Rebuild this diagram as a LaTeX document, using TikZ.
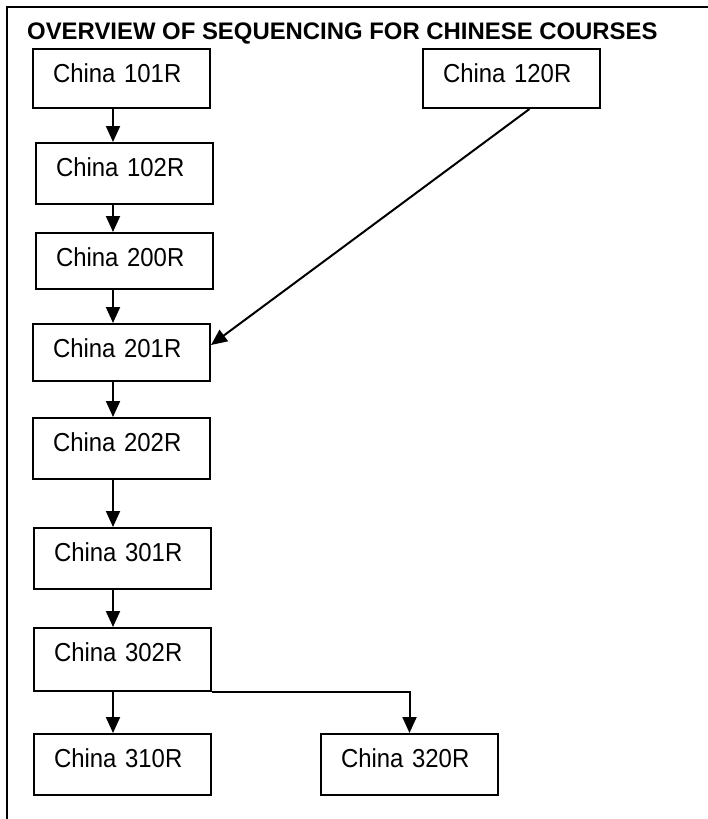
\documentclass[tikz,border=0pt]{standalone}
\usepackage{fontspec}
\setmainfont{Liberation Sans}
\newfontfamily\coursefont{Liberation Sans}[FakeStretch=0.92]
\usetikzlibrary{arrows.meta}

\begin{document}
\begin{tikzpicture}[
    x=1pt,
    y=-1pt,
    frame/.style={line width=2pt},
    course/.style={
        draw,
        line width=2pt,
        anchor=north west,
        font=\coursefont\fontsize{26}{30}\selectfont,
        inner xsep=20pt,
        inner ysep=0pt,
        text width=137pt,
        align=left,
        text height=33pt,
        text depth=#1
    },
    course/.default=28pt,
    flow/.style={
        line width=2pt,
        -{Triangle[length=16pt,width=14pt]}
    }
]

% =========================================================
% Page and frame
% =========================================================

\useasboundingbox (0,0) rectangle (708,819);

\draw[frame] (708,7) -- (7,7) -- (7,819);

% =========================================================
% Title
% =========================================================

\node[anchor=base west, inner sep=0pt, font=\fontsize{23.9}{28}\selectfont\bfseries]
    (title) at (27,39) {OVERVIEW OF SEQUENCING FOR CHINESE COURSES};

% =========================================================
% Course boxes (top left corners)
% =========================================================

\node[course=26pt] (c101) at (32,48)  {China 101R};
\node[course=26pt] (c120) at (422,48) {China 120R};

\node[course]      (c102) at (35,142) {China 102R};
\node[course=23pt] (c200) at (35,232) {China 200R};
\node[course=24pt] (c201) at (32,323) {China 201R};
\node[course]      (c202) at (32,417) {China 202R};
\node[course]      (c301) at (33,527) {China 301R};
\node[course=30pt] (c302) at (33,627) {China 302R};

\node[course]      (c310) at (33,733)  {China 310R};
\node[course]      (c320) at (320,733) {China 320R};

% Vertical line of the main chain of arrows
\coordinate (spine) at (113,0);

% =========================================================
% Main sequence
% =========================================================

\draw[flow] (c101.south -| spine) -- (c102.north -| spine);
\draw[flow] (c102.south -| spine) -- (c200.north -| spine);
\draw[flow] (c200.south -| spine) -- (c201.north -| spine);
\draw[flow] (c201.south -| spine) -- (c202.north -| spine);
\draw[flow] (c202.south -| spine) -- (c301.north -| spine);
\draw[flow] (c301.south -| spine) -- (c302.north -| spine);
\draw[flow] (c302.south -| spine) -- (c310.north -| spine);

% =========================================================
% Branch and side entry
% =========================================================

\draw[flow] (c302.south east) -| (c320.north);

\draw[flow] ([xshift=18pt]c120.south) -- ([yshift=7.5pt]c201.east);

\end{tikzpicture}
\end{document}
